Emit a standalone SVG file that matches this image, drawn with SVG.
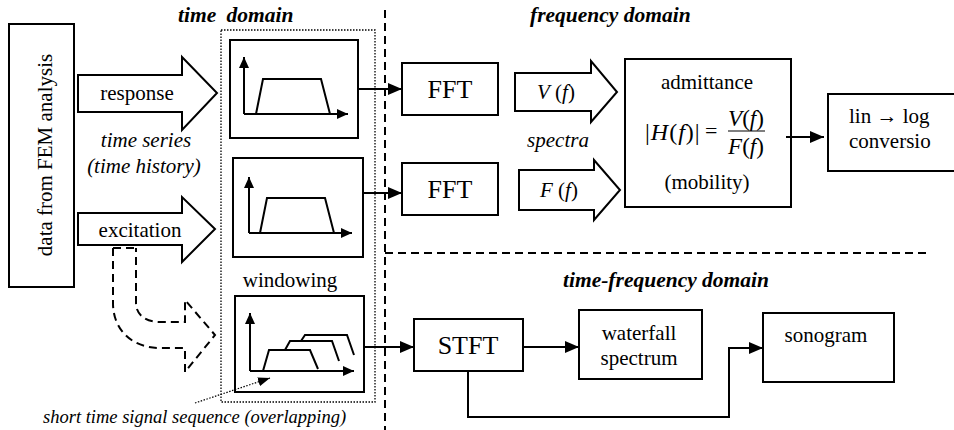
<svg xmlns="http://www.w3.org/2000/svg" width="954" height="430" viewBox="0 0 954 430" font-family="'Liberation Serif', 'Times New Roman', serif">
  <defs>
    <marker id="head" markerUnits="userSpaceOnUse" markerWidth="14" markerHeight="12" refX="14" refY="6" orient="auto">
      <path d="M0,0 L14,6 L0,12 Z" fill="#000"/>
    </marker>
    <marker id="axhead" markerUnits="userSpaceOnUse" markerWidth="11" markerHeight="10" refX="11" refY="5" orient="auto">
      <path d="M0,0 L11,5 L0,10 Z" fill="#000"/>
    </marker>
    <marker id="smallhead" markerUnits="userSpaceOnUse" markerWidth="12" markerHeight="9" refX="12" refY="4.5" orient="auto">
      <path d="M0,0 L12,4.5 L0,9 Z" fill="#000"/>
    </marker>
  </defs>
  <style>
    .box { fill: #fff; stroke: #000; stroke-width: 2; }
    .block { fill: #fff; stroke: #000; stroke-width: 2; stroke-linejoin: miter; }
    .line { fill: none; stroke: #000; stroke-width: 2; }
    .conn { fill: none; stroke: #000; stroke-width: 2; marker-end: url(#head); }
    .axis { fill: none; stroke: #000; stroke-width: 2; marker-end: url(#axhead); }
    .dash { fill: none; stroke: #000; stroke-width: 2; stroke-dasharray: 8 5; }
    .dot { fill: none; stroke: #000; stroke-width: 1.3; stroke-dasharray: 1.5 1.5; }
  </style>

  <!-- domain separators -->
  <g id="separators">
    <line class="dash" x1="385" y1="10" x2="385" y2="430"/>
    <line class="dash" x1="385" y1="253" x2="930" y2="253"/>
    <rect class="dot" x="221" y="30" width="154" height="372"/>
  </g>

  <!-- domain titles (bold italic) -->
  <g id="titles" font-family="Liberation Serif, serif" font-size="21.5" font-style="italic" font-weight="bold">
    <text x="178" y="22" word-spacing="5">time domain</text>
    <text x="530" y="22">frequency domain</text>
    <text x="563" y="287">time-frequency domain</text>
  </g>

  <g id="fem">
    <rect class="box" x="9" y="24" width="65" height="263"/>
    <text font-family="Liberation Serif, serif" font-size="21" text-anchor="middle" transform="translate(52,155) rotate(-90)">data from FEM analysis</text>
  </g>

  <g id="response">
    <path class="block" d="M78,75 H182 V57 L217,93 L182,130 V112 H78 Z"/>
    <text font-family="Liberation Serif, serif" font-size="21" text-anchor="middle" x="137" y="100">response</text>
  </g>

  <g id="timeseries" font-family="Liberation Serif, serif" font-size="21" font-style="italic" text-anchor="middle">
    <text x="146" y="147">time series</text>
    <text x="144" y="173">(time history)</text>
  </g>

  <g id="excitation">
    <path class="block" d="M78,213 H182 V197 L215,229 L182,262 V245 H78 Z"/>
    <text font-family="Liberation Serif, serif" font-size="21" text-anchor="middle" x="140" y="237">excitation</text>
  </g>

  <!-- dashed bent arrow towards windowing -->
  <g id="bent-arrow">
    <path class="dash" d="M113,248 H136 M113,248 V303 C113,330 132,348 160,348 H185 V372 L215,335 L185,300 V322 H160 C146,322 136,315 136,303 V248"/>
  </g>

  <g id="plot-response">
    <rect class="box" x="230" y="40" width="128" height="98"/>
    <path class="axis" d="M244,114 V57"/>
    <path class="axis" d="M244,114 H348"/>
    <polyline class="line" points="256,114 263,79 321,79 330,114"/>
  </g>

  <g id="plot-excitation">
    <rect class="box" x="233" y="158" width="130" height="99"/>
    <path class="axis" d="M249,233 V177"/>
    <path class="axis" d="M249,233 H352"/>
    <polyline class="line" points="260,233 267,198 325,198 334,233"/>
  </g>

  <g id="plot-windowing">
    <text font-family="Liberation Serif, serif" font-size="21" text-anchor="middle" x="290" y="287">windowing</text>
    <rect class="box" x="235" y="296" width="129" height="96"/>
    <path class="axis" d="M250,371 V313"/>
    <path class="axis" d="M250,371 H354"/>
    <polyline class="line" points="263,371 269,350 310,350 318,369"/>
    <polyline class="line" points="285,350 290,341 332,341 339,361"/>
    <polyline class="line" points="301,341 305,335 347,335 354,355"/>
  </g>

  <g id="overlap-note">
    <path d="M195,403 L270,378" fill="none" stroke="#000" stroke-width="1.2" stroke-dasharray="1.5 1.5" marker-end="url(#smallhead)"/>
    <text font-family="Liberation Serif, serif" font-size="18.5" font-style="italic" x="43" y="423">short time signal sequence (overlapping)</text>
  </g>

  <g id="fft1">
    <rect class="box" x="402" y="63" width="96" height="52"/>
    <text font-family="Liberation Serif, serif" font-size="26" text-anchor="middle" x="450" y="98">FFT</text>
  </g>

  <g id="fft2">
    <rect class="box" x="402" y="163" width="96" height="52"/>
    <text font-family="Liberation Serif, serif" font-size="26" text-anchor="middle" x="450" y="198">FFT</text>
  </g>

  <g id="spectrum-v">
    <path class="block" d="M515,73 H591 V61 L617,92 L591,122 V111 H515 Z"/>
    <text font-family="Liberation Serif, serif" font-size="21" text-anchor="middle" x="556" y="99"><tspan font-style="italic">V</tspan> (<tspan font-style="italic">f</tspan>)</text>
  </g>

  <g id="spectra-label">
    <text font-family="Liberation Serif, serif" font-size="21" font-style="italic" text-anchor="middle" x="558" y="147">spectra</text>
  </g>

  <g id="spectrum-f">
    <path class="block" d="M519,170 H594 V160 L620,190 L594,220 V210 H519 Z"/>
    <text font-family="Liberation Serif, serif" font-size="21" text-anchor="middle" x="559" y="197"><tspan font-style="italic">F</tspan> (<tspan font-style="italic">f</tspan>)</text>
  </g>

  <g id="admittance" font-family="Liberation Serif, serif">
    <rect class="box" x="625" y="59" width="166" height="148"/>
    <text font-size="21" text-anchor="middle" x="707" y="89">admittance</text>
    <text x="645" y="140" font-size="24" letter-spacing="1">|<tspan font-style="italic">H</tspan>(<tspan font-style="italic">f</tspan>)|</text>
    <text x="705" y="138" font-size="22">=</text>
    <text x="746" y="126" font-size="23" text-anchor="middle"><tspan font-style="italic">V</tspan>(<tspan font-style="italic">f</tspan>)</text>
    <line x1="728" y1="131" x2="765" y2="131" stroke="#000" stroke-width="1.2"/>
    <text x="746" y="154" font-size="23" text-anchor="middle"><tspan font-style="italic">F</tspan>(<tspan font-style="italic">f</tspan>)</text>
    <text font-size="21" text-anchor="middle" x="707" y="189">(mobility)</text>
  </g>

  <g id="linlog" font-family="Liberation Serif, serif">
    <rect class="box" x="828" y="94" width="140" height="77"/>
    <text x="849" y="123" font-size="21">lin → log</text>
    <text x="849" y="148" font-size="21">conversio</text>
  </g>

  <g id="stft">
    <rect class="box" x="414" y="319" width="109" height="52"/>
    <text font-family="Liberation Serif, serif" font-size="26" text-anchor="middle" x="468" y="354">STFT</text>
  </g>

  <g id="waterfall" font-family="Liberation Serif, serif" font-size="21" text-anchor="middle">
    <rect class="box" x="579" y="310" width="123" height="69"/>
    <text x="639" y="340">waterfall</text>
    <text x="639" y="365">spectrum</text>
  </g>

  <g id="sonogram">
    <rect class="box" x="763" y="313" width="131" height="69"/>
    <text font-family="Liberation Serif, serif" font-size="21" text-anchor="middle" x="826" y="342">sonogram</text>
  </g>

  <g id="connectors">
    <path class="conn" d="M358,89 H402"/>
    <path class="conn" d="M363,193 H402"/>
    <path class="conn" d="M786,137 H824"/>
    <path class="conn" d="M364,347 H414"/>
    <path class="conn" d="M523,347 H579"/>
    <path class="conn" d="M468,371 V417 H729 V348 H763"/>
  </g>
</svg>
